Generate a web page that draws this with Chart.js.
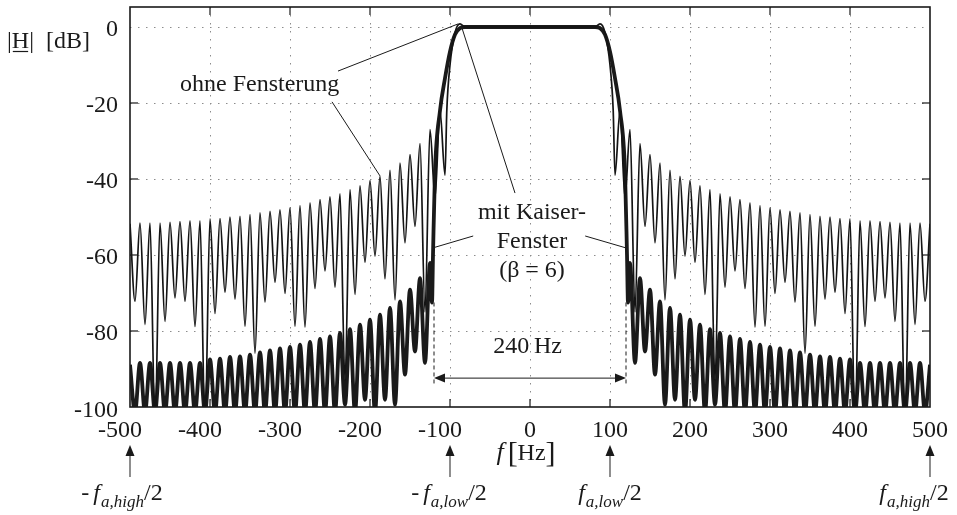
<!DOCTYPE html>
<html>
<head>
<meta charset="utf-8">
<script src="https://cdn.jsdelivr.net/npm/chart.js@4.4.1/dist/chart.umd.min.js"></script>
<style>
  body { margin: 0; background: #fff; }
  #wrap { width: 957px; height: 515px; }
</style>
</head>
<body>
<div id="wrap"><canvas id="myChart" width="957" height="515"></canvas></div>
<script>
// axis ticks
const xTicks = [-500, -400, -300, -200, -100, 0, 100, 200, 300, 400, 500];
const yTicks = [0, -20, -40, -60, -80, -100];

// FIR lowpass without window (thin line): frequency [Hz] / magnitude [dB]
const thinFreq = [
  -500, -493.75, -487.5, -481.25, -475, -468.75, -462.5, -456.25, -450, -443.75,
  -437.5, -431.25, -425, -418.75, -412.5, -406.25, -400, -393.75, -387.5, -381.25,
  -375, -368.75, -362.5, -356.25, -350, -343.75, -337.5, -331.25, -325, -318.75,
  -312.5, -306.25, -300, -293.75, -287.5, -281.25, -275, -268.75, -262.5, -256.25,
  -250, -243.75, -237.5, -231.25, -225, -218.75, -212.5, -206.25, -200, -193.75,
  -187.5, -181.25, -175, -168.75, -162.5, -156.25, -150, -143.75, -137.5, -131.25,
  -125, -118.75, -112.5, -106.25, -104, -100, -93.75, -87.5, -81.25, 0,
  81.25, 87.5, 93.75, 100, 104, 106.25, 112.5, 118.75, 125, 131.25,
  137.5, 143.75, 150, 156.25, 162.5, 168.75, 175, 181.25, 187.5, 193.75,
  200, 206.25, 212.5, 218.75, 225, 231.25, 237.5, 243.75, 250, 256.25,
  262.5, 268.75, 275, 281.25, 287.5, 293.75, 300, 306.25, 312.5, 318.75,
  325, 331.25, 337.5, 343.75, 350, 356.25, 362.5, 368.75, 375, 381.25,
  387.5, 393.75, 400, 406.25, 412.5, 418.75, 425, 431.25, 437.5, 443.75,
  450, 456.25, 462.5, 468.75, 475, 481.25, 487.5, 493.75, 500
];
const thinDb = [
  -51.8, -72.2, -51.6, -78.3, -51.6, -105, -51.6, -77.5, -51.4, -71.3,
  -51.2, -72.2, -51.0, -78.8, -51.0, -105, -50.5, -75.4, -50.4, -69.8,
  -50.0, -71.6, -49.8, -78.8, -49.4, -85.8, -48.9, -72.4, -48.5, -67.2,
  -48.1, -70.1, -47.6, -78.8, -47.0, -79.0, -46.3, -68.8, -45.4, -64.2,
  -44.7, -68.5, -43.9, -93.0, -42.8, -70.4, -41.8, -61.9, -40.4, -60.3,
  -39.3, -66.3, -37.7, -71.8, -35.8, -56.8, -33.6, -52.5, -30.7, -75.0,
  -27.0, -45.0, -22.0, -39.0, -22.0, -10.0, -1.5, 0.8, 0.0, 0.0,
  0.0, 0.8, -1.5, -10.0, -22.0, -39.0, -22.0, -45.0, -27.0, -75.0,
  -30.7, -52.5, -33.6, -56.8, -35.8, -71.8, -37.7, -66.3, -39.3, -60.3,
  -40.4, -61.9, -41.8, -70.4, -42.8, -93.0, -43.9, -68.5, -44.7, -64.2,
  -45.4, -68.8, -46.3, -79.0, -47.0, -78.8, -47.6, -70.1, -48.1, -67.2,
  -48.5, -72.4, -48.9, -85.8, -49.4, -78.8, -49.8, -71.6, -50.0, -69.8,
  -50.4, -75.4, -50.5, -105, -51.0, -78.8, -51.0, -72.2, -51.2, -71.3,
  -51.4, -77.5, -51.6, -105, -51.6, -78.3, -51.6, -72.2, -51.8
];

// FIR lowpass with Kaiser window, beta = 6 (thick line); nulls below -100 are clipped
const thickFreq = [
  -500, -493.75, -487.5, -481.25, -475, -468.75, -462.5, -456.25, -450, -443.75,
  -437.5, -431.25, -425, -418.75, -412.5, -406.25, -400, -393.75, -387.5, -381.25,
  -375, -368.75, -362.5, -356.25, -350, -343.75, -337.5, -331.25, -325, -318.75,
  -312.5, -306.25, -300, -293.75, -287.5, -281.25, -275, -268.75, -262.5, -256.25,
  -250, -243.75, -237.5, -231.25, -225, -218.75, -212.5, -206.25, -200, -193.75,
  -187.5, -181.25, -175, -168.75, -162.5, -156.25, -150, -143.75, -137.5, -131.25,
  -125, -122.5, -121.25, -118.75, -112.5, -106.25, -100, -93.75, -87.5, -81.25,
  0,
  81.25, 87.5, 93.75, 100, 106.25, 112.5, 118.75, 121.25, 122.5, 125,
  131.25, 137.5, 143.75, 150, 156.25, 162.5, 168.75, 175, 181.25, 187.5,
  193.75, 200, 206.25, 212.5, 218.75, 225, 231.25, 237.5, 243.75, 250,
  256.25, 262.5, 268.75, 275, 281.25, 287.5, 293.75, 300, 306.25, 312.5,
  318.75, 325, 331.25, 337.5, 343.75, 350, 356.25, 362.5, 368.75, 375,
  381.25, 387.5, 393.75, 400, 406.25, 412.5, 418.75, 425, 431.25, 437.5,
  443.75, 450, 456.25, 462.5, 468.75, 475, 481.25, 487.5, 493.75, 500
];
const thickDb = [
  -88.9, -101.5, -88.4, -101.5, -88.4, -101.5, -88.4, -101.5, -88.4, -101.5,
  -88.4, -101.5, -88.4, -101.5, -88.4, -101.5, -87.5, -101.5, -87.3, -101.5,
  -86.8, -101.5, -86.7, -101.5, -86.2, -101.5, -85.6, -101.5, -85.1, -101.5,
  -84.6, -101.5, -84.2, -101.5, -83.6, -101.5, -82.9, -101.5, -82.1, -101.5,
  -81.4, -101.5, -80.5, -99.4, -79.5, -101.5, -78.3, -98.1, -77.0, -101.5,
  -75.7, -98.1, -73.9, -99.4, -72.2, -91.5, -69.1, -85.4, -66.1, -88.4,
  -62.1, -72.5, -60.0, -38.0, -22.0, -13.5, -6.5, -2.0, -0.3, 0.0,
  0.0,
  0.0, -0.3, -2.0, -6.5, -13.5, -22.0, -38.0, -60.0, -72.5, -62.1,
  -88.4, -66.1, -85.4, -69.1, -91.5, -72.2, -99.4, -73.9, -98.1, -75.7,
  -101.5, -77.0, -98.1, -78.3, -101.5, -79.5, -99.4, -80.5, -101.5, -81.4,
  -101.5, -82.1, -101.5, -82.9, -101.5, -83.6, -101.5, -84.2, -101.5, -84.6,
  -101.5, -85.1, -101.5, -85.6, -101.5, -86.2, -101.5, -86.7, -101.5, -86.8,
  -101.5, -87.3, -101.5, -87.5, -101.5, -88.4, -101.5, -88.4, -101.5, -88.4,
  -101.5, -88.4, -101.5, -88.4, -101.5, -88.4, -101.5, -88.4, -101.5, -88.9
];

const SERIF = '"Liberation Serif", "Times New Roman", serif';
const INK = '#1a1a1a';

function fontOf(s) {
  return (s.it ? 'italic ' : '') + s.size + 'px ' + SERIF;
}

// draw a run of text pieces (subscripts, italics) on one baseline
function rich(ctx, segs, x, y, align) {
  let w = 0;
  segs.forEach(s => {
    ctx.font = fontOf(s);
    s.w = ctx.measureText(s.t).width + (s.gap || 0);
    w += s.w;
  });
  let cx = align === 'center' ? x - w / 2 : (align === 'right' ? x - w : x);
  ctx.textAlign = 'left';
  ctx.textBaseline = 'alphabetic';
  segs.forEach(s => {
    ctx.font = fontOf(s);
    ctx.fillText(s.t, cx, y + (s.dy || 0));
    cx += s.w;
  });
}

function seg(ctx, x1, y1, x2, y2) {
  ctx.beginPath();
  ctx.moveTo(x1, y1);
  ctx.lineTo(x2, y2);
  ctx.stroke();
}

function head(ctx, tx, ty, dx, dy, len, half) {
  // filled arrow head with tip at (tx, ty) pointing along (dx, dy)
  const bx = tx - dx * len, by = ty - dy * len;
  ctx.beginPath();
  ctx.moveTo(tx, ty);
  ctx.lineTo(bx - dy * half, by + dx * half);
  ctx.lineTo(bx + dy * half, by - dx * half);
  ctx.closePath();
  ctx.fill();
}

const decor = {
  id: 'decor',
  beforeDatasetsDraw(chart) {
    const { ctx, chartArea: a, scales: { x, y } } = chart;
    ctx.save();
    ctx.strokeStyle = '#8c8c8c';
    ctx.lineWidth = 1;
    ctx.setLineDash([1.5, 6.5]);
    xTicks.slice(1, -1).forEach(v => {
      const p = Math.round(x.getPixelForValue(v)) + 0.5;
      seg(ctx, p, a.top, p, a.bottom);
    });
    yTicks.slice(0, -1).forEach(v => {
      const p = Math.round(y.getPixelForValue(v)) + 0.5;
      seg(ctx, a.left, p, a.right, p);
    });
    ctx.restore();
  },
  afterDatasetsDraw(chart) {
    const { ctx, chartArea: a, scales: { x, y } } = chart;
    const px = v => x.getPixelForValue(v);
    const py = v => y.getPixelForValue(v);
    ctx.save();

    // frame with inner ticks
    ctx.strokeStyle = INK;
    ctx.lineWidth = 1.6;
    ctx.strokeRect(a.left, a.top, a.right - a.left, a.bottom - a.top);
    ctx.lineWidth = 1.2;
    xTicks.slice(1, -1).forEach(v => {
      seg(ctx, px(v), a.top, px(v), a.top + 8);
      seg(ctx, px(v), a.bottom, px(v), a.bottom - 8);
    });
    yTicks.slice(1, -1).forEach(v => {
      seg(ctx, a.left, py(v), a.left + 8, py(v));
      seg(ctx, a.right, py(v), a.right - 8, py(v));
    });

    // tick labels
    ctx.fillStyle = INK;
    ctx.font = '24px ' + SERIF;
    ctx.textBaseline = 'alphabetic';
    ctx.textAlign = 'right';
    yTicks.forEach(v => ctx.fillText(String(v), a.left - 12, py(v) + 9.5));
    ctx.textAlign = 'center';
    xTicks.forEach(v => ctx.fillText(String(v), px(v) - (v < 0 ? 10 : 0), a.bottom + 30));

    // y axis title |H| [dB]
    ctx.textAlign = 'left';
    ctx.fillText('|H|  [dB]', 7, 48);
    const hx = 7 + ctx.measureText('|').width;
    ctx.lineWidth = 1.2;
    seg(ctx, hx + 1, 51.5, hx + ctx.measureText('H').width - 1, 51.5);

    // x axis title f [Hz]
    rich(ctx, [
      { t: 'f', size: 26, it: true, gap: 4 },
      { t: '[', size: 30, dy: 2 },
      { t: 'Hz', size: 24 },
      { t: ']', size: 30, dy: 2 }
    ], px(0) - 4, a.bottom + 53, 'center');

    // sampling-rate arrows below the axis
    ctx.strokeStyle = '#444';
    ctx.lineWidth = 1.2;
    [-500, -100, 100, 500].forEach(v => {
      seg(ctx, px(v), a.bottom + 70, px(v), a.bottom + 46);
      head(ctx, px(v), a.bottom + 38, 0, -1, 11, 4.5);
    });
    const fa = (minus, sub) => [
      ...(minus ? [{ t: '-', size: 24, gap: 4 }] : []),
      { t: 'f', size: 24, it: true, gap: 1 },
      { t: sub, size: 17, it: true, dy: 7 },
      { t: '/2', size: 24 }
    ];
    const by = a.bottom + 93;
    rich(ctx, fa(true, 'a,high'), px(-500) - 8, by, 'center');
    rich(ctx, fa(true, 'a,low'), px(-100) - 1, by, 'center');
    rich(ctx, fa(false, 'a,low'), px(100), by, 'center');
    rich(ctx, fa(false, 'a,high'), px(500) - 16, by, 'center');

    // annotations inside the plot
    ctx.strokeStyle = INK;
    ctx.lineWidth = 1;
    seg(ctx, px(-240), py(-11.6), px(-90), py(0.8));
    seg(ctx, px(-247.5), py(-19.7), px(-187.5), py(-39.2));
    seg(ctx, px(-85), py(-0.3), px(-18.75), py(-43.7));
    seg(ctx, px(-71), py(-55), px(-122.5), py(-58.2));
    seg(ctx, px(69), py(-55), px(121), py(-58.2));

    ctx.font = '24px ' + SERIF;
    ctx.textAlign = 'left';
    ctx.fillText('ohne Fensterung', px(-437.5), py(-16.8));
    ctx.textAlign = 'center';
    ctx.fillText('mit Kaiser-', px(2.5), py(-50.5));
    ctx.fillText('Fenster', px(2.5), py(-58.2));
    ctx.fillText('(\u03B2 = 6)', px(2.5), py(-65.8));
    ctx.fillText('240\u2009Hz', px(-3), py(-85.7));

    // 240 Hz bandwidth marker
    ctx.setLineDash([4, 3]);
    seg(ctx, px(-120), py(-72.5), px(-120), py(-93.8));
    seg(ctx, px(120), py(-72.5), px(120), py(-93.8));
    ctx.setLineDash([]);
    const ay = py(-92.4);
    seg(ctx, px(-120) + 8, ay, px(120) - 8, ay);
    ctx.fillStyle = INK;
    head(ctx, px(-120), ay, -1, 0, 11, 4.5);
    head(ctx, px(120), ay, 1, 0, 11, 4.5);

    ctx.restore();
  }
};

const ctx = document.getElementById('myChart');

new Chart(ctx, {
  type: 'line',
  data: {
    datasets: [
      {
        label: 'ohne Fensterung',
        data: thinFreq.map((f, i) => ({ x: f, y: thinDb[i] })),
        borderColor: '#141414',
        borderWidth: 1.7,
        pointRadius: 0,
        cubicInterpolationMode: 'monotone',
        clip: 0
      },
      {
        label: 'mit Kaiser-Fenster',
        data: thickFreq.map((f, i) => ({ x: f, y: thickDb[i] })),
        borderColor: '#1a1a1a',
        borderWidth: 3.8,
        pointRadius: 0,
        cubicInterpolationMode: 'monotone',
        clip: 0
      }
    ]
  },
  options: {
    responsive: false,
    animation: false,
    events: [],
    layout: {
      padding: { left: 130, top: 7, right: 27, bottom: 108 }
    },
    plugins: {
      legend: { display: false },
      tooltip: { enabled: false }
    },
    scales: {
      x: { type: 'linear', min: -500, max: 500, display: false },
      y: { type: 'linear', min: -100, max: 5.26, display: false }
    }
  },
  plugins: [decor]
});
</script>
</body>
</html>
